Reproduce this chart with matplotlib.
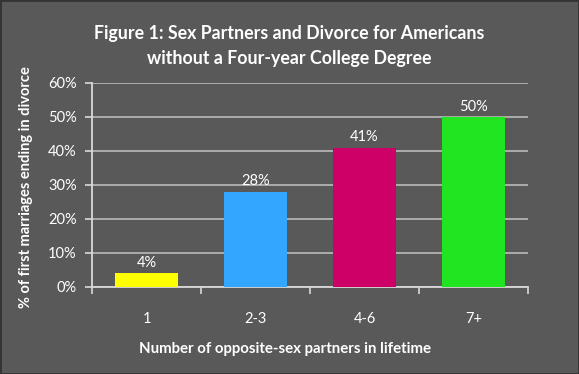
import numpy as np
import matplotlib.pyplot as plt
from matplotlib.ticker import PercentFormatter

categories = ['1', '2-3', '4-6', '7+']
values = [4, 28, 41, 50]
bar_colors = ['#FFFF00', '#33A6FF', '#CC0066', '#22E522']
yticks = [0, 10, 20, 30, 40, 50, 60]

bg = '#595959'
txt = '#FFFFFF'
plt.rcParams['font.family'] = ['Lato', 'DejaVu Sans']

fig = plt.figure(figsize=(5.79, 3.74), dpi=100, facecolor=bg)
fig.patches.append(plt.Rectangle((0, 0), 1, 1, transform=fig.transFigure,
                                 fill=False, edgecolor='#333333', linewidth=2))
ax = fig.add_axes([92/579, 1 - 287/374, 436/579, 204/374])
ax.set_facecolor(bg)

x = np.arange(len(categories))
bars = ax.bar(x, values, width=0.57, color=bar_colors, zorder=3)
for xi, v in zip(x, values):
    ax.text(xi, v + 1.0, '%d%%' % v, ha='center', va='bottom', color=txt, fontsize=10.5)

ax.set_xlim(-0.5, len(categories) - 0.5)
ax.set_ylim(0, 60)
ax.set_yticks(yticks)
ax.yaxis.set_major_formatter(PercentFormatter(decimals=0))
ax.set_xticks(x)
ax.set_xticklabels(categories)
ax.set_xticks(np.arange(-0.5, len(categories)), minor=True)
ax.tick_params(axis='x', which='major', length=0, pad=18, colors=txt, labelsize=10.5)
ax.tick_params(axis='x', which='minor', length=5, color='#D9D9D9', width=1.2)
ax.tick_params(axis='y', length=5, color='#D9D9D9', width=1.2, colors=txt, labelsize=10.5, pad=6)
ax.grid(axis='y', color='#B3B3B3', linewidth=1.3, zorder=0)
for s in ['top', 'right']:
    ax.spines[s].set_visible(False)
for s in ['left', 'bottom']:
    ax.spines[s].set_color('#D9D9D9')
    ax.spines[s].set_linewidth(1.3)

ax.set_xlabel('Number of opposite-sex partners in lifetime', color=txt,
              fontsize=10.8, fontweight='bold')
ax.xaxis.set_label_coords(0.443, -0.27)
ax.set_ylabel('% of first marriages ending in divorce', color=txt,
              fontsize=10.5, fontweight='bold')
ax.yaxis.set_label_coords(-0.135, 0.49)

fig.text(0.5, 1 - 46/374, 'Figure 1: Sex Partners and Divorce for Americans\nwithout a Four-year College Degree',
         ha='center', va='center', color=txt, fontsize=12.8, fontweight='bold', linespacing=1.55)

fig.savefig('out.png', dpi=100, facecolor=bg)
